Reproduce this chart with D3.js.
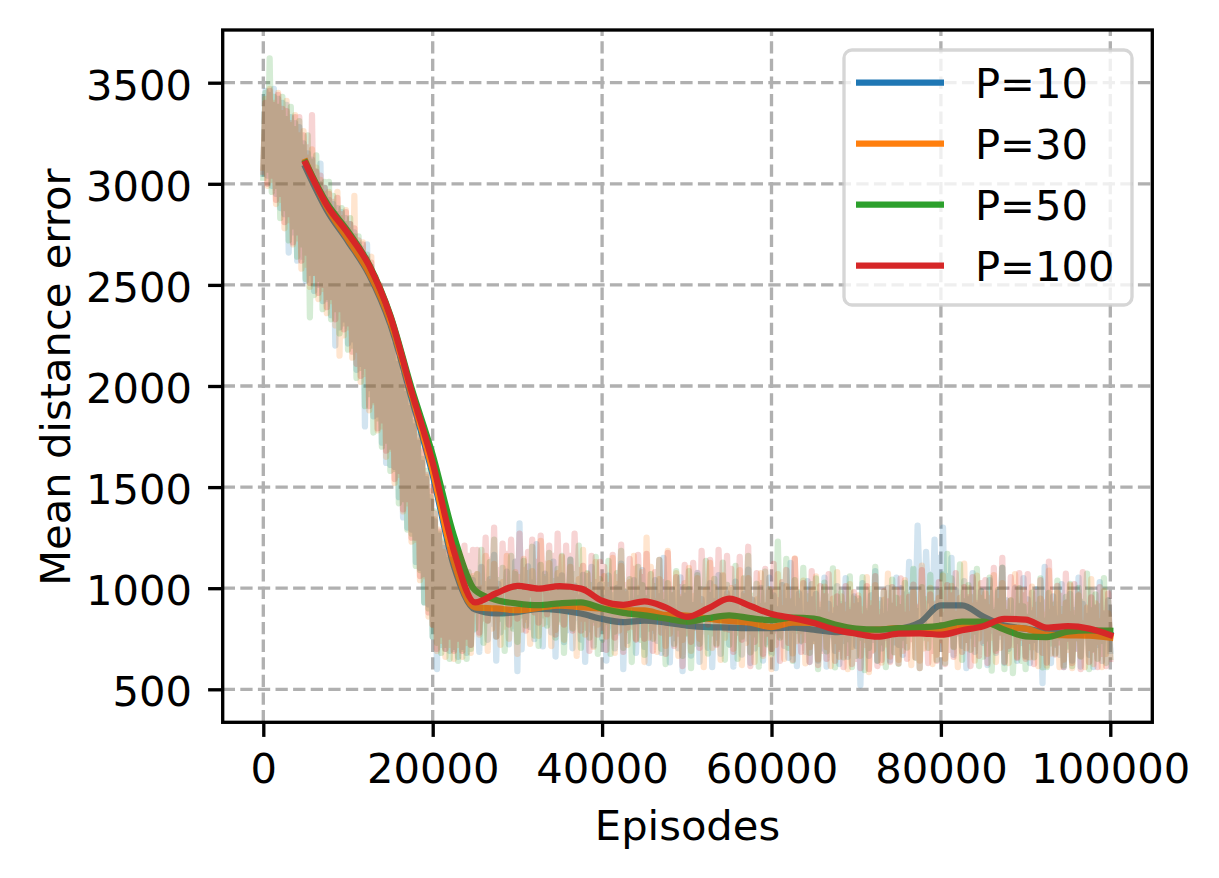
<!DOCTYPE html>
<html><head><meta charset="utf-8">
<script src="https://cdn.jsdelivr.net/npm/d3@7"></script>
<style>
body{margin:0;background:#fff}
svg{display:block}
text{font-family:"DejaVu Sans",sans-serif}
</style>
</head><body>
<svg id="c" width="1219" height="878"></svg>
<script>
const seriesNames = ["P=10", "P=30", "P=50", "P=100"];
const colors = ["#1f77b4", "#ff7f0e", "#2ca02c", "#d62728"];
const xTicks = [0, 20000, 40000, 60000, 80000, 100000];
const yTicks = [500, 1000, 1500, 2000, 2500, 3000, 3500];
const xLabel = "Episodes";
const yLabel = "Mean distance error";

// raw samples: "even" at episodes 0,500,...,100000 ; "odd" at 250,750,...,99750
const evenEpisodes = d3.range(0, 100001, 500);
const oddEpisodes = d3.range(250, 100000, 500);

const rawP10even = [
3050,3040,2990,2950,2880,2850,2660,2760,2620,2640,
2520,2560,2470,2500,2420,2430,2350,2200,2290,2330,
2210,2230,2080,2110,1800,1990,1850,1860,1720,1620,
1610,1600,1450,1350,1300,1290,1130,1100,930,920,
760,600,720,700,690,700,660,710,680,720,
795,685,855,745,825,642,782,872,722,812,
590,698,858,808,748,892,712,832,782,662,
843,733,793,703,853,746,636,796,716,856,
752,642,812,702,782,600,740,830,680,770,
710,630,790,740,680,813,633,753,703,590,
776,666,726,636,786,705,610,755,675,815,
722,612,782,672,752,630,702,792,642,732,
685,605,765,715,655,795,615,735,685,635,
752,642,702,612,762,690,625,740,660,800,
715,520,775,665,745,640,702,792,642,732,
720,670,830,830,850,1000,820,940,890,770,
920,770,770,670,780,715,605,765,685,825,
730,620,790,680,760,630,700,790,640,730,
665,630,745,695,530,780,630,720,670,610,
752,642,702,612,762,670,610,720,640,780,
690];
const rawP10odd = [
3460,3440,3470,3420,3400,3390,3330,3300,3280,3200,
3150,3120,3060,3100,2980,2920,2900,2880,2860,2830,
2800,2760,2700,2680,2700,2590,2520,2440,2360,2280,
2200,2110,2050,1960,1890,1800,1720,1620,1540,1430,
1330,1260,1200,1140,1110,1090,1080,1060,1050,1040,
995,1105,955,1045,1165,1022,942,1082,992,1132,
1320,988,1108,1028,1218,992,1072,962,1132,1042,
1063,983,1143,1013,953,1066,976,1106,946,1016,
952,1062,912,1002,1122,980,900,1040,950,1090,
990,920,1040,960,1150,913,993,883,1053,963,
996,916,1076,946,886,1025,935,1065,905,975,
922,1032,882,972,1092,942,862,1002,912,1052,
965,895,1015,935,1125,895,975,865,1035,945,
972,892,1052,922,862,1010,920,1050,890,960,
915,1025,875,965,1085,942,862,1002,912,1052,
1000,970,1130,1090,1310,1100,1180,1070,1240,1150,
1300,1060,1150,990,910,1035,945,1075,915,985,
930,1040,890,980,1100,940,860,1000,910,1050,
945,875,995,915,1105,880,960,850,1020,930,
972,892,1052,922,862,990,900,1030,870,940];

const rawP30even = [
3080,2990,3020,2900,2920,2780,2820,2700,2730,2580,
2600,2490,2560,2430,2480,2360,2420,2300,2150,2250,
2290,2140,2180,2020,2060,1880,1920,1780,1800,1650,
1690,1520,1560,1380,1420,1230,1240,1040,1060,860,
820,690,740,660,720,650,720,660,730,680,
910,770,850,690,800,870,720,810,750,860,
675,795,845,725,905,764,824,874,714,794,
835,745,895,805,665,850,770,880,710,820,
900,760,840,680,790,870,720,810,750,860,
635,755,805,685,865,715,775,825,665,745,
780,690,840,750,610,785,705,815,645,755,
840,700,780,620,730,785,635,725,665,775,
600,720,770,650,830,678,738,788,628,708,
738,648,798,708,615,740,660,770,600,710,
805,665,745,585,695,782,632,722,662,772,
645,690,740,620,800,642,702,752,625,672,
742,652,802,712,610,782,702,812,642,752,
815,675,755,635,705,780,630,720,660,770,
660,658,708,615,768,617,677,727,610,647,
695,605,755,665,610,705,625,735,610,675,
765];
const rawP30odd = [
3420,3470,3400,3450,3350,3410,3290,3340,3240,3260,
3130,3170,3080,3020,2950,2960,2870,2960,2830,2870,
2770,2940,2690,2710,2600,2640,2500,2490,2380,2330,
2220,2160,2070,2000,1900,1850,1730,1670,1550,1480,
1340,1290,1180,1170,1100,1120,1070,1090,1040,1060,
1070,1000,1160,1030,1120,970,1030,1160,1000,1080,
1055,1145,975,1085,1005,1234,1044,1124,1004,1074,
1155,1015,1105,965,1045,1190,1070,980,1130,1020,
1060,990,1150,1020,1110,970,1030,1160,1000,1080,
1250,1105,935,1045,965,1185,995,1075,955,1025,
1100,960,1050,910,990,1125,1005,915,1065,955,
1000,930,1090,960,1050,885,945,1075,915,995,
980,1070,900,1010,930,1148,958,1038,918,988,
1058,918,1008,868,948,1080,960,870,1020,910,
965,895,1055,925,1015,882,942,1072,912,992,
950,1040,870,980,900,1112,922,1002,882,952,
1062,922,1012,872,952,1122,1002,912,1062,952,
975,905,1065,935,1025,880,940,1070,910,990,
918,1008,838,948,868,1087,897,977,857,927,
1015,875,965,825,905,1045,925,835,985,875];

const rawP50even = [
3030,3070,2960,2990,2830,2880,2720,2790,2640,2700,
2530,2340,2450,2530,2380,2440,2330,2380,2260,2310,
2180,2200,2040,2090,1900,1960,1770,1840,1700,1730,
1580,1590,1420,1440,1290,1270,1110,1090,930,900,
760,730,680,720,650,710,640,700,650,700,
800,890,730,840,920,760,850,690,900,800,
735,865,815,925,765,715,865,815,895,755,
850,680,890,800,930,705,805,755,845,675,
745,835,675,785,865,705,795,635,845,745,
670,800,750,860,700,625,775,725,805,665,
775,605,815,725,855,676,776,726,816,646,
720,810,650,760,840,682,772,612,822,722,
675,805,755,865,705,640,790,740,820,680,
738,600,778,688,818,608,708,658,748,610,
665,755,595,705,785,642,732,610,782,682,
626,756,706,816,656,605,755,705,785,645,
758,630,798,708,838,645,745,695,785,615,
662,752,592,702,782,600,690,580,740,640,
600,708,658,768,608,610,727,677,757,617,
712,615,752,662,792,600,700,650,740,630,
660];
const rawP50odd = [
3450,3620,3430,3380,3430,3320,3380,3270,3310,3180,
3240,3110,3140,3000,3010,3010,2940,2850,2880,2800,
2830,2740,2740,2640,2650,2560,2540,2430,2400,2290,
2250,2130,2090,1980,1930,1820,1760,1640,1580,1450,
1380,1270,1230,1150,1140,1100,1110,1070,1080,1050,
1070,1190,1020,1130,1240,1040,1100,990,1160,1070,
1015,1135,1075,1205,995,1115,1055,1175,1035,1095,
1160,990,1140,1070,1210,995,1075,1015,1155,1045,
1015,1135,965,1075,1185,985,1045,935,1105,1015,
950,1070,1010,1140,930,1025,965,1085,945,1005,
1085,915,1065,995,1135,966,1046,986,1126,1016,
990,1110,940,1050,1160,962,1022,912,1082,992,
955,1230,1015,1145,935,1040,980,1100,960,1020,
1048,878,1028,958,1098,898,978,918,1058,948,
935,1055,885,995,1105,922,982,872,1042,952,
906,1026,966,1096,886,1005,945,1065,925,985,
1068,1170,1048,978,1118,935,1015,955,1095,985,
932,1052,882,992,1102,880,940,830,1000,910,
858,978,918,1048,838,977,917,1037,897,957,
1022,852,1002,932,1072,890,970,910,1050,940];

const rawP100even = [
3060,3000,3040,2920,2950,2810,2850,2710,2760,2620,
2660,2510,2560,2460,2500,2390,2440,2330,2380,2280,
2310,2170,2110,2050,2100,1900,1930,1790,1830,1680,
1700,1540,1580,1390,1440,1250,1250,1060,1070,880,
820,700,770,700,760,690,750,690,760,720,
890,780,960,840,930,760,880,990,820,920,
850,940,790,970,880,830,1010,870,930,770,
940,820,890,790,970,790,850,690,830,770,
805,695,875,755,845,685,805,915,745,845,
750,840,690,870,780,675,855,715,775,615,
855,735,805,705,885,820,880,720,860,800,
795,685,865,745,835,615,735,845,675,775,
700,790,640,820,730,645,825,685,745,635,
740,620,690,650,770,640,700,610,680,625,
650,605,720,600,690,615,645,755,635,685,
628,718,650,748,658,605,770,630,690,640,
745,625,695,660,775,685,745,615,725,665,
740,630,810,690,780,635,715,825,655,755,
650,740,625,770,680,632,812,672,732,610,
750,630,700,600,780,635,695,610,675,615,
650];
const rawP100odd = [
3400,3460,3390,3440,3370,3360,3300,3330,3330,3240,
3180,3340,3060,3040,2980,2950,2910,2930,2850,2860,
2800,2780,2720,2700,2630,2610,2530,2500,2390,2350,
2240,2180,2090,2030,1920,1860,1750,1680,1560,1500,
1370,1280,1220,1190,1180,1200,1170,1210,1160,1190,
1190,1100,1250,1140,1300,1090,1220,1170,1240,1130,
1270,1090,1180,1240,1130,1260,1120,1210,1160,1270,
1060,1210,1160,1270,1090,1110,1060,1160,1030,1130,
1105,1015,1165,1055,1215,1015,1145,1095,1165,1055,
1170,990,1080,1140,1030,1175,965,1055,1005,1115,
975,1125,1075,1185,1005,1140,1090,1190,1060,1160,
1095,1005,1155,1045,1205,945,1075,1025,1095,985,
1120,940,1030,1090,980,1145,935,1025,975,1085,
860,1010,960,1070,890,960,910,1010,880,980,
950,860,1010,900,1060,855,985,935,1005,895,
1048,868,958,1018,908,1090,880,970,920,1030,
865,1015,965,1075,895,1005,955,1055,925,1025,
1040,950,1100,990,1150,925,1055,1005,1075,965,
1070,890,980,1040,930,1132,922,1012,962,1072,
870,1020,970,1080,900,955,905,1005,875,975];

// smoothed curves every 2500 episodes, 5000 .. 100000
const smoothEpisodes = d3.range(5000, 100001, 2500);
const smoothP10 = [3080,2870,2715,2550,2305,1940,1560,1110,895,875,882,898,892,875,848,832,840,830,815,807,805,802,802,805,795,783,790,795,800,830,915,915,860,815,800,785,780,782,770];
const smoothP30 = [3110,2885,2725,2560,2320,1960,1580,1130,905,900,891,903,914,906,900,891,890,868,865,850,838,830,808,830,828,810,792,795,802,800,793,810,830,807,800,770,767,765,755];
const smoothP50 = [3105,2905,2765,2600,2350,1990,1660,1260,990,942,924,916,925,930,900,878,866,850,835,852,866,852,842,855,850,820,800,795,802,806,815,835,835,795,762,758,785,792,790];
const smoothP100 = [3100,2895,2755,2595,2345,1975,1620,1185,930,975,1012,998,1010,998,938,918,935,905,858,900,948,912,872,852,828,795,775,760,775,777,770,792,812,848,845,805,812,800,768];

const rawEven = [rawP10even, rawP30even, rawP50even, rawP100even];
const rawOdd = [rawP10odd, rawP30odd, rawP50odd, rawP100odd];
const smoothSeries = [smoothP10, smoothP30, smoothP50, smoothP100];

// ---------- layout ----------
const FS = 41.67;
const L = 222.7, R = 1152.3, T = 30, B = 722.3;
const lw = 3.33;
const svg = d3.select("#c");
svg.append("rect").attr("width", 1219).attr("height", 878).attr("fill", "#fff");

const x = d3.scaleLinear().domain([0, 100000]).range([263.3, 1110.3]);
const y = d3.scaleLinear().domain([500, 3500]).range([689.3, 82.7]);

svg.append("defs").append("clipPath").attr("id", "clip")
  .append("rect").attr("x", L).attr("y", T).attr("width", R - L).attr("height", B - T);

// grid
const grid = svg.append("g").attr("clip-path", "url(#clip)");
grid.selectAll("line.gx").data(xTicks).join("line")
  .attr("x1", d => x(d)).attr("x2", d => x(d)).attr("y1", B).attr("y2", T)
  .attr("stroke", "#b0b0b0").attr("stroke-width", lw).attr("stroke-dasharray", "12.3,5.3");
grid.selectAll("line.gy").data(yTicks).join("line")
  .attr("x1", L).attr("x2", R).attr("y1", d => y(d)).attr("y2", d => y(d))
  .attr("stroke", "#b0b0b0").attr("stroke-width", lw).attr("stroke-dasharray", "12.3,5.3");

// data
const plot = svg.append("g").attr("clip-path", "url(#clip)");
const rawLine = d3.line().x(d => x(d[0])).y(d => y(d[1]));
const smLine = d3.line().x((d, i) => x(smoothEpisodes[i])).y(d => y(d)).curve(d3.curveMonotoneX);
seriesNames.forEach((name, k) => {
  const pts = [];
  evenEpisodes.forEach((ep, i) => {
    pts.push([ep, rawEven[k][i]]);
    if (i < oddEpisodes.length) pts.push([oddEpisodes[i], rawOdd[k][i]]);
  });
  plot.append("path").datum(pts).attr("d", rawLine)
    .attr("fill", "none").attr("stroke", colors[k]).attr("stroke-opacity", 0.2)
    .attr("stroke-width", 6.25).attr("stroke-linejoin", "round").attr("stroke-linecap", "square");
  plot.append("path").datum(smoothSeries[k]).attr("d", smLine)
    .attr("fill", "none").attr("stroke", colors[k])
    .attr("stroke-width", 6.25).attr("stroke-linejoin", "round").attr("stroke-linecap", "square");
});

// axes
const xAxis = d3.axisBottom(x).tickValues(xTicks).tickFormat(d3.format("d")).tickSize(14.6).tickPadding(16.5);
const gx = svg.append("g").attr("transform", `translate(0,${B})`).call(xAxis);
const yAxis = d3.axisLeft(y).tickValues(yTicks).tickFormat(d3.format("d")).tickSize(14.6).tickPadding(16);
const gy = svg.append("g").attr("transform", `translate(${L},0)`).call(yAxis);
[gx, gy].forEach(g => {
  g.select(".domain").remove();
  g.selectAll(".tick line").attr("stroke", "#000").attr("stroke-width", lw);
  g.selectAll(".tick text").attr("fill", "#000").style("font-size", FS + "px").style("font-family", "DejaVu Sans");
});
gy.selectAll(".tick text").attr("dy", "0.4em");

// spines
svg.append("rect").attr("x", L).attr("y", T).attr("width", R - L).attr("height", B - T)
  .attr("fill", "none").attr("stroke", "#000").attr("stroke-width", lw).attr("stroke-linejoin", "miter");

// labels
svg.append("text").attr("x", (L + R) / 2).attr("y", 840).attr("text-anchor", "middle")
  .style("font-size", FS + "px").text(xLabel);
svg.append("text").attr("transform", `translate(70,${(T + B) / 2 + 1}) rotate(-90)`)
  .attr("text-anchor", "middle").style("font-size", FS + "px").text(yLabel);

// legend
const lg = svg.append("g");
lg.append("rect").attr("x", 844).attr("y", 50).attr("width", 288).attr("height", 255)
  .attr("rx", 8).attr("ry", 8)
  .attr("fill", "#fff").attr("fill-opacity", 0.8)
  .attr("stroke", "#cccccc").attr("stroke-opacity", 0.8).attr("stroke-width", lw);
seriesNames.forEach((name, k) => {
  const ly = 82.7 + k * 61;
  lg.append("line").attr("x1", 856).attr("x2", 944).attr("y1", ly).attr("y2", ly)
    .attr("stroke", colors[k]).attr("stroke-width", 6.25);
  lg.append("text").attr("x", 975).attr("y", ly + 15.5).style("font-size", FS + "px").text(name);
});
</script>
</body></html>
